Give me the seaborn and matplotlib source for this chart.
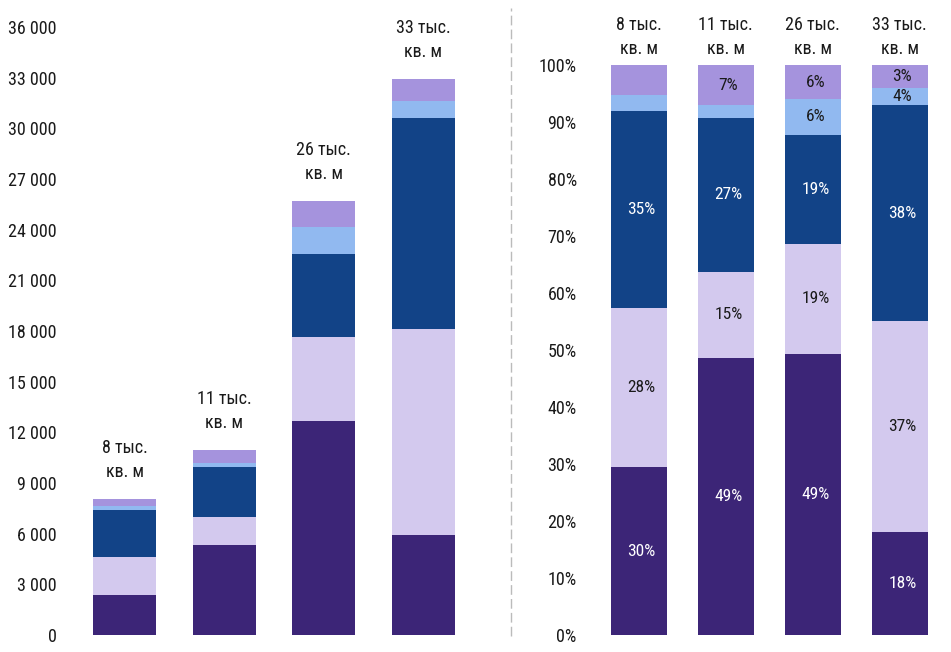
import matplotlib
matplotlib.use("Agg")
import matplotlib.pyplot as plt
import seaborn as sns
import numpy as np
import pandas as pd
from matplotlib.lines import Line2D
from matplotlib.ticker import FuncFormatter

# ---- data ----
bars = ["A", "B", "C", "D"]
total_labels = ["8 тыс.\nкв. м", "11 тыс.\nкв. м", "26 тыс.\nкв. м", "33 тыс.\nкв. м"]
seg_dark_purple = [2370, 5330, 12660, 5920]
seg_lavender = [2250, 1650, 4970, 12180]
seg_dark_blue = [2780, 2960, 4910, 12490]
seg_light_blue = [230, 240, 1600, 1010]
seg_mid_purple = [420, 770, 1540, 1300]

pct_labels_dark_purple = ["30%", "49%", "49%", "18%"]
pct_labels_lavender = ["28%", "15%", "19%", "37%"]
pct_labels_dark_blue = ["35%", "27%", "19%", "38%"]
pct_labels_light_blue = ["", "", "6%", "4%"]
pct_labels_mid_purple = ["", "7%", "6%", "3%"]

left_ticks = [0, 3000, 6000, 9000, 12000, 15000, 18000, 21000, 24000, 27000, 30000, 33000, 36000]
right_ticks = [0, 10, 20, 30, 40, 50, 60, 70, 80, 90, 100]

segments = [seg_dark_purple, seg_lavender, seg_dark_blue, seg_light_blue, seg_mid_purple]
seg_pct_labels = [pct_labels_dark_purple, pct_labels_lavender, pct_labels_dark_blue,
                  pct_labels_light_blue, pct_labels_mid_purple]
colors = ["#3C2577", "#D3C9EE", "#124387", "#91B9F0", "#A593DD"]
text_colors = ["white", "#1a1a1a", "white", "#1a1a1a", "#1a1a1a"]

sns.set_theme(style="white")
plt.rcParams['font.family'] = ['Roboto Condensed', 'Roboto', 'DejaVu Sans']

W, H = 951, 652
fig = plt.figure(figsize=(W / 100, H / 100), dpi=100)

def px_axes(x0, y_top, x1, y_bot):
    return fig.add_axes([x0 / W, 1 - y_bot / H, (x1 - x0) / W, (y_bot - y_top) / H])

ax1 = px_axes(65, 27, 480, 635)
ax2 = px_axes(585, 65, 945, 635)

seg_arr = np.array(segments, dtype=float)
totals = seg_arr.sum(axis=0)
pct_arr = seg_arr / totals * 100

def stacked(ax, arr, width):
    cum = np.cumsum(arr, axis=0)
    for i in range(arr.shape[0] - 1, -1, -1):
        df = pd.DataFrame({"bar": bars, "val": cum[i]})
        sns.barplot(data=df, x="bar", y="val", ax=ax, color=colors[i],
                    width=width, saturation=1, errorbar=None, linewidth=0)
    return cum

cum1 = stacked(ax1, seg_arr, 0.63)
cum2 = stacked(ax2, pct_arr, 0.64)

fs = 13
for ax in (ax1, ax2):
    sns.despine(ax=ax, left=True, bottom=True)
    ax.set_xlabel("")
    ax.set_ylabel("")
    ax.set_xticks([])
    ax.tick_params(axis="y", length=0, labelsize=fs, pad=6, colors="#1a1a1a")
    ax.grid(False)

ax1.set_xlim(-0.6, 3.57)
ax1.set_ylim(0, 36000)
ax1.set_yticks(left_ticks)
ax1.yaxis.set_major_formatter(FuncFormatter(lambda v, p: f"{int(v):,}".replace(",", " ")))

ax2.set_xlim(-0.62, 3.52)
ax2.set_ylim(0, 100)
ax2.set_yticks(right_ticks)
ax2.yaxis.set_major_formatter(FuncFormatter(lambda v, p: f"{int(v)}%"))

# total labels
for i, t in enumerate(total_labels):
    ax1.annotate(t, (i, totals[i]), xytext=(0, 13), textcoords="offset points",
                 ha="center", va="bottom", fontsize=fs, linespacing=1.45,
                 color="#1a1a1a", annotation_clip=False)
    ax2.annotate(t, (i, 100), xytext=(0, 5), textcoords="offset points",
                 ha="center", va="bottom", fontsize=fs, linespacing=1.45,
                 color="#1a1a1a", annotation_clip=False)

# percentage labels
for s in range(len(segments)):
    for i in range(len(bars)):
        lab = seg_pct_labels[s][i]
        if not lab:
            continue
        lo = cum2[s - 1][i] if s > 0 else 0
        hi = cum2[s][i]
        ax2.text(i + 0.03, (lo + hi) / 2, lab, ha="center", va="center",
                 fontsize=fs - 0.5, color=text_colors[s])

# dashed separator
fig.add_artist(Line2D([510.5 / W, 510.5 / W], [1 - 636 / H, 1 - 8 / H],
                      transform=fig.transFigure, color="#BBBBBB", lw=1,
                      linestyle=(0, (7, 3))))

fig.savefig("out.png", dpi=100)
